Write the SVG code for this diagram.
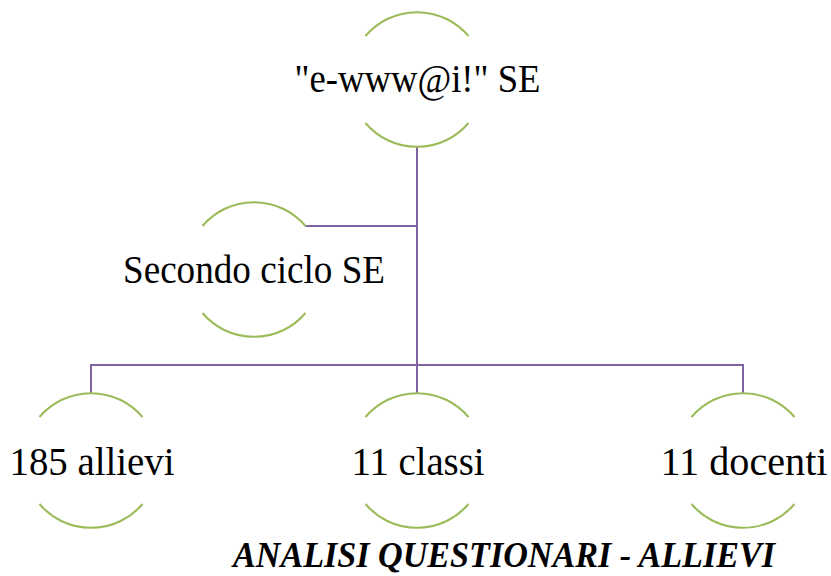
<svg xmlns="http://www.w3.org/2000/svg" xmlns:xlink="http://www.w3.org/1999/xlink" width="831" height="576" viewBox="0 0 831 576">
  <style>
    .arc { fill: none; stroke: #9bbb59; stroke-width: 2; }
    .link { fill: none; stroke: #8064a2; stroke-width: 2; }
    .label { font-family: "Liberation Serif", "Times New Roman", serif; font-size: 39px; fill: #000; text-anchor: middle; }
    .title { font-family: "Liberation Serif", "Times New Roman", serif; font-size: 36px; font-weight: bold; font-style: italic; fill: #000; text-anchor: middle; }
  </style>
  <defs>
    <!-- open circle: upper and lower arc around a centre at 0,0 -->
    <path id="ring" class="arc" d="M-51.5,-43.5 A67.5,67.5 0 0 1 51.5,-43.5 M-51.5,43.5 A67.5,67.5 0 0 0 51.5,43.5"/>
  </defs>
  <rect width="831" height="576" fill="#fff"/>

  <g id="connectors">
    <path class="link" d="M417,147 V365"/>
    <path class="link" d="M305.5,226 H417"/>
    <path class="link" d="M91,393 V365 H743 V393"/>
    <path class="link" d="M417,365 V393"/>
  </g>

  <g id="node-root">
    <use xlink:href="#ring" x="417" y="79.5"/>
    <text class="label" x="417.5" y="92" textLength="246" lengthAdjust="spacingAndGlyphs">"e-www@i!" SE</text>
  </g>

  <g id="node-secondo">
    <use xlink:href="#ring" x="254" y="269.5"/>
    <text class="label" x="254" y="283" textLength="262" lengthAdjust="spacingAndGlyphs">Secondo ciclo SE</text>
  </g>

  <g id="node-allievi">
    <use xlink:href="#ring" x="91" y="460.5"/>
    <text class="label" x="92" y="475" textLength="165" lengthAdjust="spacingAndGlyphs">185 allievi</text>
  </g>

  <g id="node-classi">
    <use xlink:href="#ring" x="417" y="460.5"/>
    <text class="label" x="418" y="475" textLength="133" lengthAdjust="spacingAndGlyphs">11 classi</text>
  </g>

  <g id="node-docenti">
    <use xlink:href="#ring" x="743" y="460.5"/>
    <text class="label" x="744" y="475" textLength="167" lengthAdjust="spacingAndGlyphs">11 docenti</text>
  </g>

  <text class="title" x="504" y="567" textLength="542" lengthAdjust="spacingAndGlyphs">ANALISI QUESTIONARI - ALLIEVI</text>
</svg>
